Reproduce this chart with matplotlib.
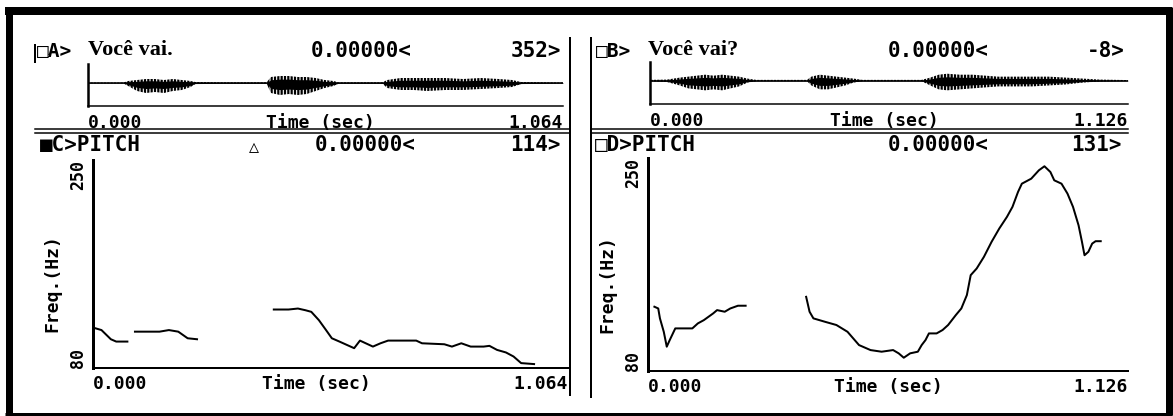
import matplotlib
matplotlib.use('Agg')
import matplotlib.pyplot as plt

W, H = 1173, 416

# --- data ---
dur_a = 1.064
dur_b = 1.126

# waveform envelopes (screen amplitude units, + up / - down)
wave_a_t = [0.00, 0.08, 0.09, 0.11, 0.13, 0.15, 0.17, 0.19, 0.21, 0.23, 0.24, 0.30, 0.40,
            0.41, 0.43, 0.45, 0.47, 0.49, 0.51, 0.53, 0.55, 0.56, 0.66, 0.67, 0.70, 0.73,
            0.76, 0.80, 0.84, 0.88, 0.92, 0.95, 0.97, 1.064]
wave_a_top = [0.5, 0.5, 2, 3, 4, 4, 3, 4, 3, 2, 1, 0.7, 0.7, 6, 7, 7, 6, 6, 5, 3, 2, 0.7,
              0.7, 3, 5, 5, 5, 5, 4, 5, 4, 3, 1, 0.5]
wave_a_bot = [0.5, 0.5, 3, 8, 10, 9, 10, 8, 7, 4, 1, 0.7, 0.7, 10, 12, 11, 12, 11, 8, 5, 3,
              0.7, 0.7, 5, 7, 7, 8, 7, 7, 6, 5, 4, 1, 0.5]

wave_b_t = [0.00, 0.04, 0.07, 0.09, 0.11, 0.13, 0.15, 0.17, 0.19, 0.21, 0.23, 0.25, 0.37,
            0.38, 0.40, 0.42, 0.44, 0.46, 0.48, 0.50, 0.64, 0.66, 0.68, 0.70, 0.73, 0.76,
            0.79, 0.82, 0.86, 0.90, 0.94, 0.98, 1.02, 1.06, 1.126]
wave_b_top = [0.7, 1, 3, 4, 5, 6, 5, 6, 5, 4, 2, 0.7, 0.7, 4, 6, 5, 4, 3, 2, 0.7, 0.7, 3,
              6, 7, 6, 6, 5, 4, 4, 4, 4, 3, 2, 1, 0.5]
wave_b_bot = [0.7, 1.5, 5, 8, 9, 10, 9, 10, 8, 6, 2, 0.7, 0.7, 5, 9, 9, 7, 5, 2, 0.7, 0.7,
              5, 9, 10, 9, 8, 7, 6, 6, 6, 5, 4, 2, 1, 0.5]

# pitch tracks (voiced segments)
pitch_c_t = [[0.006, 0.019, 0.040, 0.052, 0.077],
             [0.094, 0.149, 0.170, 0.191, 0.212, 0.233],
             [0.405, 0.438, 0.459, 0.476, 0.489, 0.506, 0.522, 0.535, 0.552, 0.577, 0.585,
              0.598, 0.611, 0.627, 0.644, 0.661, 0.724, 0.737, 0.787, 0.804, 0.825, 0.846,
              0.875, 0.888, 0.905, 0.925, 0.942, 0.959, 0.988]]
pitch_c_f = [[112.4, 111.0, 103.5, 101.6, 101.6],
             [109.7, 109.7, 111.0, 109.7, 104.3, 103.5],
             [127.8, 127.8, 128.6, 127.2, 125.9, 119.1, 111.0, 104.3, 101.6, 97.5, 96.2,
              102.4, 100.2, 97.5, 100.2, 102.4, 102.4, 100.2, 99.4, 97.5, 100.2, 97.5,
              97.5, 98.1, 94.8, 92.7, 89.4, 84.0, 83.2]]

pitch_d_t = [[0.015, 0.024, 0.028, 0.037, 0.044, 0.051, 0.064, 0.104, 0.117, 0.131, 0.153,
              0.162, 0.180, 0.193, 0.211, 0.229],
             [0.371, 0.379, 0.388, 0.415, 0.442, 0.468, 0.495, 0.522, 0.548, 0.575, 0.588,
              0.600, 0.615, 0.633, 0.642, 0.651, 0.659, 0.677, 0.691, 0.704, 0.722, 0.735,
              0.748, 0.757, 0.771, 0.788, 0.806, 0.824, 0.842, 0.855, 0.868, 0.877, 0.899,
              0.917, 0.930, 0.944, 0.953, 0.970, 0.984, 0.997, 1.010, 1.018, 1.024, 1.033,
              1.042, 1.050, 1.062]]
pitch_d_f = [[131.3, 129.9, 122.0, 111.3, 99.4, 104.7, 114.0, 114.0, 118.0, 120.6, 126.0,
              128.6, 127.3, 129.9, 132.1, 132.1],
             [139.2, 127.3, 122.0, 119.3, 116.7, 111.3, 100.7, 96.7, 95.4, 96.7, 94.1,
              90.6, 94.1, 95.4, 100.7, 104.7, 110.0, 110.0, 112.7, 116.7, 124.6, 129.9,
              140.6, 156.5, 161.8, 171.1, 183.1, 193.7, 203.0, 211.0, 222.9, 229.5, 233.5,
              240.2, 243.4, 238.8, 232.2, 229.5, 221.6, 211.0, 196.3, 183.1, 172.4, 175.1,
              181.7, 183.6, 183.6]]

f_lo, f_hi = 80, 250

MONO = ['DejaVu Sans Mono', 'DejaVu Sans']
SERIF = ['Liberation Serif', 'DejaVu Serif']

plt.rcParams['hatch.linewidth'] = 1.6


def box(l, t, r, b):
    return [l / W, 1 - b / H, (r - l) / W, (b - t) / H]


def px(n):
    return n * 72 / 100.0


fig = plt.figure(figsize=(W / 100, H / 100), dpi=100)
fig.patch.set_facecolor('white')

# background layer in pixel coordinates for frame / separators / headers
bg = fig.add_axes([0, 0, 1, 1])
bg.set_xlim(0, W)
bg.set_ylim(H, 0)
bg.axis('off')

# outer frame
bg.plot([5, 1172], [11, 11], c='k', lw=px(8), solid_capstyle='butt')
bg.plot([8.5, 8.5], [7, 415], c='k', lw=px(7), solid_capstyle='butt')
bg.plot([1169, 1169], [7, 415], c='k', lw=px(7), solid_capstyle='butt')
bg.plot([5, 1172], [413.5, 413.5], c='k', lw=px(3), solid_capstyle='butt')

# panel separators
bg.plot([570, 570], [38, 395], c='k', lw=px(2))
bg.plot([591, 591], [38, 397], c='k', lw=px(2))
bg.plot([35, 35], [45, 62], c='k', lw=px(2))
for y in [129, 133]:
    bg.plot([35, 570], [y, y], c='k', lw=px(1.5))
    bg.plot([591, 1128], [y, y], c='k', lw=px(1.5))

# headers
hdr = dict(family=MONO, weight='bold', va='center')
bg.text(37, 51, '□A>', fontsize=14, ha='left', **hdr)
bg.text(88, 50, 'Você vai.', family=SERIF, weight='bold', fontsize=16, ha='left', va='center')
bg.text(361, 51, '0.00000<', fontsize=15, ha='center', **hdr)
bg.text(561, 51, '352>', fontsize=15, ha='right', **hdr)

bg.text(596, 51, '□B>', fontsize=14, ha='left', **hdr)
bg.text(648, 50, 'Você vai?', family=SERIF, weight='bold', fontsize=16, ha='left', va='center')
bg.text(938, 51, '0.00000<', fontsize=15, ha='center', **hdr)
bg.text(1125, 51, '-8>', fontsize=15, ha='right', **hdr)

bg.text(40, 145, '■C>PITCH', fontsize=15, ha='left', **hdr)
bg.text(254, 147, '△', fontsize=12, ha='center', **hdr)
bg.text(365, 145, '0.00000<', fontsize=15, ha='center', **hdr)
bg.text(561, 145, '114>', fontsize=15, ha='right', **hdr)

bg.text(595, 145, '□D>PITCH', fontsize=15, ha='left', **hdr)
bg.text(938, 145, '0.00000<', fontsize=15, ha='center', **hdr)
bg.text(1122, 145, '131>', fontsize=15, ha='right', **hdr)


def time_axis(ax, dur, xlab_pos, pad):
    ax.set_xlim(0, dur)
    ax.set_xticks([0, dur])
    ax.set_xticklabels(['%.3f' % 0, '%.3f' % dur])
    ax.tick_params(axis='x', length=0, pad=pad, labelsize=13)
    for lbl, ha in zip(ax.get_xticklabels(), ['left', 'right']):
        lbl.set_ha(ha)
        lbl.set_family(MONO)
        lbl.set_weight('bold')
    ax.annotate('Time (sec)', xy=(xlab_pos, 0), xycoords='axes fraction',
                xytext=(0, -pad), textcoords='offset points', ha='center', va='top',
                family=MONO, weight='bold', fontsize=13)
    for s in ['top', 'right']:
        ax.spines[s].set_visible(False)
    ax.set_facecolor('none')


# waveform panels
for rect, t, top, bot, dur, xl, ylo in [
        (box(88, 64, 563, 106), wave_a_t, wave_a_top, wave_a_bot, dur_a, 0.49, -23),
        (box(650, 62, 1128, 104), wave_b_t, wave_b_top, wave_b_bot, dur_b, 0.49, -24)]:
    ax = fig.add_axes(rect)
    neg = [-v for v in bot]
    # striated outer envelope + solid core
    ax.fill_between(t, top, neg, facecolor='white', edgecolor='k', hatch='|||||', lw=0)
    ax.fill_between(t, [0.55 * v for v in top], [0.55 * v for v in neg], color='k', lw=0)
    ax.axhline(0, c='k', lw=px(1.5))
    ax.set_ylim(ylo, 19)
    ax.set_yticks([])
    ax.spines['left'].set_linewidth(px(2.5))
    ax.spines['bottom'].set_linewidth(px(1.5))
    time_axis(ax, dur, xl, 6)

# pitch panels
for rect, segs_t, segs_f, dur, xl in [
        (box(93, 160, 568, 368), pitch_c_t, pitch_c_f, dur_a, 0.47),
        (box(648, 158, 1128, 371), pitch_d_t, pitch_d_f, dur_b, 0.50)]:
    ax = fig.add_axes(rect)
    for t, f in zip(segs_t, segs_f):
        ax.plot(t, f, c='k', lw=px(2))
    ax.set_ylim(f_lo, f_hi)
    ax.set_yticks([f_lo, f_hi])
    ax.set_yticklabels([str(f_lo), str(f_hi)], rotation=90)
    ax.tick_params(axis='y', length=0, pad=4, labelsize=12)
    for lbl, va in zip(ax.get_yticklabels(), ['bottom', 'top']):
        lbl.set_va(va)
        lbl.set_family(MONO)
        lbl.set_weight('bold')
    ax.set_ylabel('Freq.(Hz)', family=MONO, weight='bold', fontsize=13)
    ax.yaxis.set_label_coords(-0.066, 0.41)
    ax.spines['left'].set_linewidth(px(3))
    ax.spines['bottom'].set_linewidth(px(2))
    time_axis(ax, dur, xl, 5)

fig.savefig('out.png', dpi=100)
